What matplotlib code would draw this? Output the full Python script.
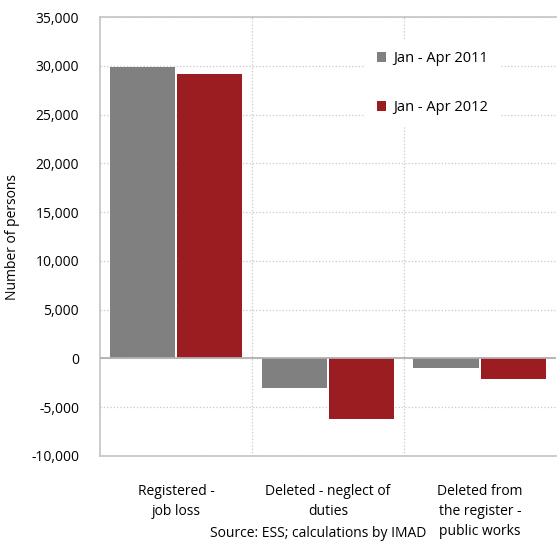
import matplotlib.pyplot as plt
import numpy as np
from matplotlib.ticker import FuncFormatter

plt.rcParams['font.family'] = ['Open Sans', 'DejaVu Sans']

categories = ['Registered -\njob loss', 'Deleted - neglect of\nduties', 'Deleted from\nthe register -\npublic works']
series_2011 = [29900, -3000, -950]
series_2012 = [29200, -6250, -2150]
labels = ['Jan - Apr 2011', 'Jan - Apr 2012']
colors = ['#808080', '#9b1c21']

fig = plt.figure(figsize=(5.57, 5.42), dpi=100)
ax = fig.add_axes([0.1795, 0.1587, 0.8185, 0.8099])

x = np.arange(len(categories))
w = 0.43
ax.bar(x - w / 2 - 0.007, series_2011, w, color=colors[0], label=labels[0], zorder=3)
ax.bar(x + w / 2 + 0.007, series_2012, w, color=colors[1], label=labels[1], zorder=3)

ax.set_xlim(-0.5, 2.5)
ax.set_ylim(-10000, 35000)
ax.set_yticks(np.arange(-10000, 35001, 5000))
ax.yaxis.set_major_formatter(FuncFormatter(lambda v, p: f'{int(v):,}'))
ax.set_xticks(x)
ax.set_xticklabels(categories, fontsize=10, linespacing=1.45)
ax.tick_params(axis='y', labelsize=10, length=0, pad=15)
ax.tick_params(axis='x', length=0, pad=20)

# dotted grid: horizontal at each tick, vertical between categories
ax.grid(axis='y', color='#c8c8c8', linestyle=':', linewidth=0.9, zorder=0)
for b in [0.5, 1.5]:
    ax.axvline(b, color='#c8c8c8', linestyle=':', linewidth=0.9, zorder=0)
ax.axhline(0, color='#b0b0b0', linewidth=1.3, zorder=4)

for side in ['left', 'top', 'bottom']:
    ax.spines[side].set_color('#c8c8c8')
    ax.spines[side].set_linewidth(1.3)
ax.spines['right'].set_visible(False)

ax.set_ylabel('Number of persons', fontsize=10)
ax.yaxis.set_label_coords(-0.175, 0.5)

leg = ax.legend(loc='upper left', bbox_to_anchor=(0.565, 0.965), frameon=True,
                fontsize=10.5, handlelength=0.65, handleheight=0.65,
                handletextpad=0.5, labelspacing=2.3, borderpad=0.8)
leg.get_frame().set_facecolor('white')
leg.get_frame().set_edgecolor('none')
leg.get_frame().set_alpha(1)
leg.set_zorder(5)

fig.text(0.571, 0.002, 'Source: ESS; calculations by IMAD', ha='center', va='bottom', fontsize=10)

fig.savefig('out.png', dpi=100)
